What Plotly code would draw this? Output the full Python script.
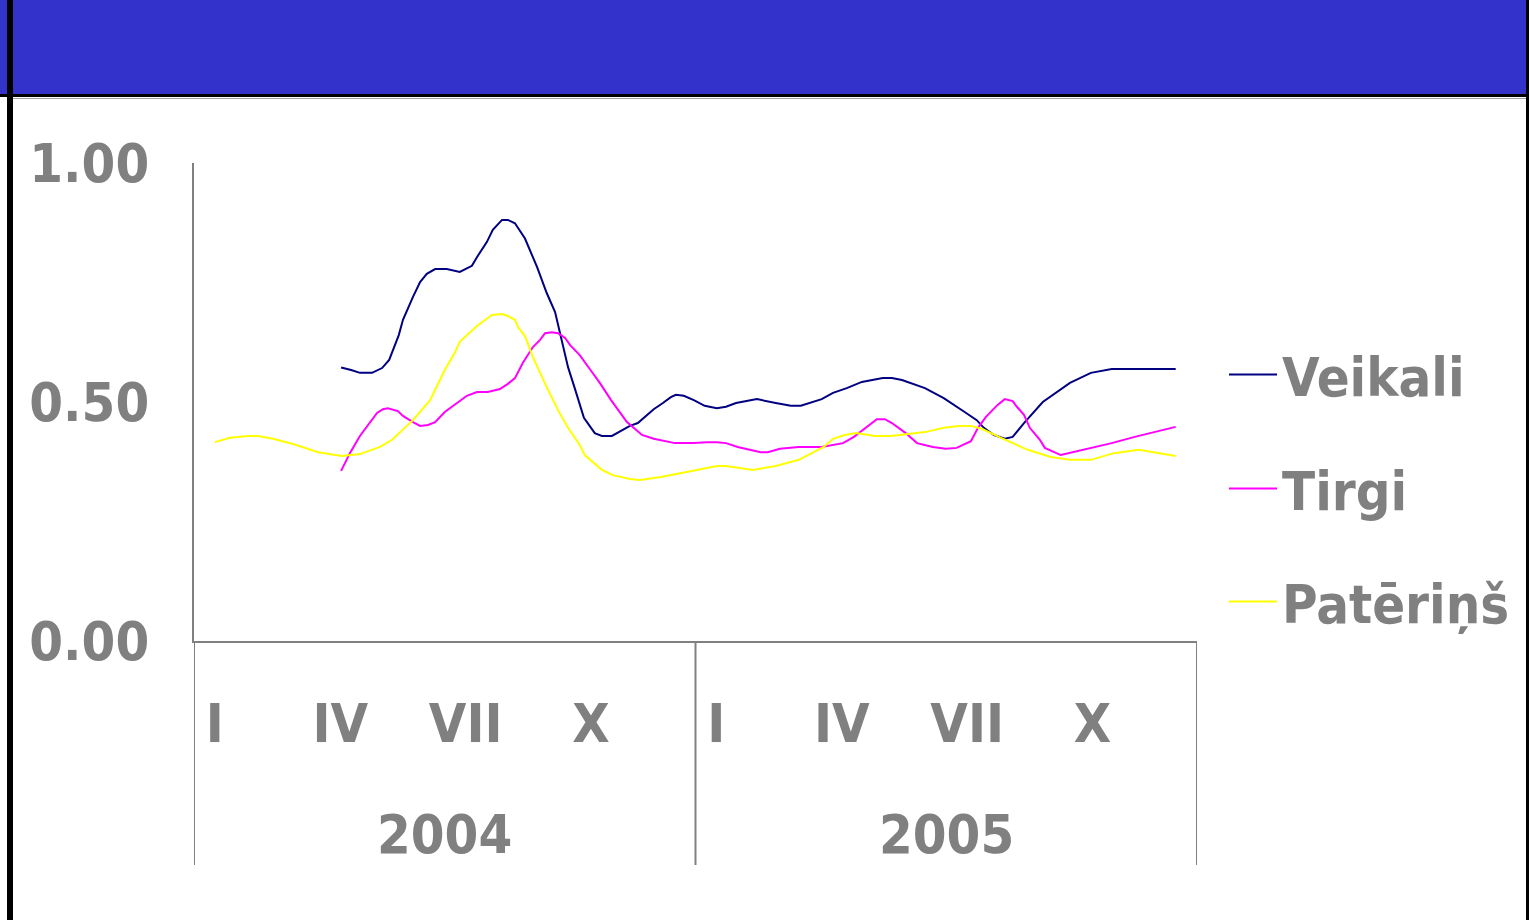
import plotly.graph_objects as go

# x positions in months from start of 2004 (0 = start of Jan 2004, 24 = end of Dec 2005)
veikali_x = [3.52, 3.76, 3.97, 4.26, 4.50, 4.67, 4.90, 5.00, 5.24, 5.41, 5.57, 5.77, 6.05, 6.36,
             6.65, 6.77, 7.01, 7.15, 7.37, 7.51, 7.68, 7.92, 8.21, 8.44, 8.64, 8.76, 8.95, 9.11,
             9.33, 9.59, 9.76, 10.00, 10.19, 10.43, 10.62, 11.00, 11.22, 11.41, 11.53, 11.72,
             11.96, 12.22, 12.51, 12.73, 12.97, 13.47, 13.92, 14.28, 14.52, 14.74, 15.02, 15.29,
             15.62, 15.98, 16.48, 16.70, 16.94, 17.49, 17.94, 18.44, 18.73, 18.90, 19.14, 19.40,
             19.59, 19.86, 20.31, 20.96, 21.46, 21.96, 23.49]
veikali_y = [0.572, 0.567, 0.561, 0.561, 0.571, 0.588, 0.640, 0.672, 0.720, 0.751, 0.768, 0.778,
             0.778, 0.772, 0.785, 0.803, 0.835, 0.860, 0.881, 0.881, 0.874, 0.842, 0.782, 0.728,
             0.688, 0.644, 0.573, 0.529, 0.467, 0.435, 0.429, 0.429, 0.439, 0.450, 0.456, 0.485,
             0.498, 0.510, 0.515, 0.513, 0.504, 0.492, 0.487, 0.490, 0.498, 0.506, 0.498, 0.492,
             0.492, 0.498, 0.506, 0.519, 0.529, 0.542, 0.550, 0.550, 0.546, 0.529, 0.508, 0.479,
             0.462, 0.446, 0.431, 0.423, 0.427, 0.456, 0.500, 0.540, 0.561, 0.569, 0.569]

tirgi_x = [3.52, 3.73, 3.97, 4.16, 4.38, 4.52, 4.64, 4.88, 5.00, 5.24, 5.41, 5.60, 5.77, 6.00,
           6.24, 6.53, 6.77, 7.03, 7.32, 7.51, 7.68, 7.87, 8.11, 8.28, 8.40, 8.56, 8.71, 8.88,
           9.00, 9.23, 9.47, 9.71, 9.98, 10.19, 10.36, 10.72, 11.00, 11.51, 11.96, 12.27, 12.51,
           12.73, 13.01, 13.56, 13.73, 14.02, 14.47, 15.02, 15.53, 15.79, 16.12, 16.34, 16.53,
           16.70, 17.03, 17.30, 17.68, 17.99, 18.25, 18.59, 18.76, 18.95, 19.23, 19.40, 19.59,
           19.69, 19.86, 20.00, 20.24, 20.36, 20.74, 21.41, 21.96, 22.51, 23.49]
tirgi_y = [0.356, 0.393, 0.429, 0.452, 0.477, 0.485, 0.487, 0.481, 0.471, 0.458, 0.450, 0.452,
           0.458, 0.479, 0.494, 0.513, 0.521, 0.521, 0.527, 0.538, 0.550, 0.582, 0.615, 0.630,
           0.644, 0.646, 0.644, 0.634, 0.619, 0.598, 0.569, 0.540, 0.504, 0.479, 0.458, 0.431,
           0.423, 0.414, 0.414, 0.416, 0.416, 0.414, 0.406, 0.395, 0.395, 0.402, 0.406, 0.406,
           0.414, 0.427, 0.450, 0.464, 0.464, 0.456, 0.435, 0.414, 0.406, 0.402, 0.404, 0.418,
           0.446, 0.469, 0.494, 0.506, 0.502, 0.490, 0.473, 0.446, 0.421, 0.404, 0.389, 0.402,
           0.414, 0.427, 0.448]

pateri_x = [0.50, 0.86, 1.29, 1.53, 1.89, 2.37, 2.97, 3.54, 3.97, 4.45, 4.74, 4.93, 5.24, 5.65,
            5.84, 6.00, 6.24, 6.36, 6.77, 7.13, 7.37, 7.51, 7.68, 7.75, 7.92, 8.11, 8.44, 8.71,
            8.95, 9.23, 9.35, 9.76, 10.02, 10.43, 10.67, 11.17, 11.82, 12.51, 12.73, 13.37, 13.92,
            14.47, 14.78, 15.07, 15.29, 15.57, 15.84, 16.29, 16.67, 17.49, 17.94, 18.30, 18.59,
            18.85, 19.31, 19.95, 20.50, 20.96, 21.46, 22.01, 22.61, 23.49]
pateri_y = [0.416, 0.425, 0.429, 0.429, 0.423, 0.412, 0.395, 0.387, 0.391, 0.406, 0.421, 0.437,
            0.462, 0.504, 0.540, 0.567, 0.603, 0.626, 0.659, 0.682, 0.684, 0.680, 0.672, 0.657,
            0.638, 0.594, 0.531, 0.483, 0.446, 0.410, 0.389, 0.358, 0.347, 0.339, 0.337, 0.343,
            0.354, 0.366, 0.366, 0.358, 0.366, 0.379, 0.393, 0.406, 0.423, 0.431, 0.435, 0.429,
            0.429, 0.437, 0.446, 0.450, 0.450, 0.444, 0.425, 0.400, 0.385, 0.379, 0.379, 0.393,
            0.400, 0.387]

month_ticks = [0.5, 3.5, 6.5, 9.5, 12.5, 15.5, 18.5, 21.5]
month_labels = ["I", "IV", "VII", "X", "I", "IV", "VII", "X"]
years = ["2004", "2005"]
year_pos = [6, 18]
year_bounds = [0, 12, 24]
y_ticks = [0, 0.5, 1.0]

W, H = 1529, 920
GRAY = "#808080"
FONT = "DejaVu Sans Condensed, DejaVu Sans"
FS = 54


def px(x):
    return x / W


def py(y):
    return 1 - y / H


fig = go.Figure()
series = [
    ("Veikali", veikali_x, veikali_y, "#000080", "legend", 375),
    ("Tirgi", tirgi_x, tirgi_y, "#FF00FF", "legend2", 489),
    ("Patēriņš", pateri_x, pateri_y, "#FFFF00", "legend3", 602),
]
legends = {}
for name, xs, ys, col, lg, ly in series:
    fig.add_trace(go.Scatter(x=xs, y=ys, mode="lines", name=name,
                             line=dict(color=col, width=2), legend=lg))
    legends[lg] = dict(x=px(1224), y=py(ly), xanchor="left", yanchor="middle",
                       bgcolor="rgba(0,0,0,0)", itemwidth=48,
                       font=dict(family=FONT, size=FS, color=GRAY, weight="bold"))

shapes = [
    # header band
    dict(type="rect", xref="paper", yref="paper", x0=0, x1=1, y0=py(94), y1=1,
         fillcolor="#3333CC", line_width=0, layer="below"),
    dict(type="rect", xref="paper", yref="paper", x0=0, x1=1, y0=py(97), y1=py(94),
         fillcolor="black", line_width=0),
    dict(type="line", xref="paper", yref="paper", x0=px(13), x1=px(1526), y0=py(98.5), y1=py(98.5),
         line=dict(color="#A0A0A0", width=1)),
    # frame borders
    dict(type="rect", xref="paper", yref="paper", x0=px(7), x1=px(13), y0=0, y1=1,
         fillcolor="black", line_width=0),
    dict(type="rect", xref="paper", yref="paper", x0=px(1526), x1=1, y0=0, y1=1,
         fillcolor="black", line_width=0),
]
for b in year_bounds:
    shapes.append(dict(type="line", xref="x", yref="paper", x0=b, x1=b,
                       y0=py(865), y1=py(641), line=dict(color=GRAY, width=2)))

annotations = [
    dict(x=xp, y=py(834), xref="x", yref="paper", text=t, showarrow=False,
         yanchor="middle",
         font=dict(family=FONT, size=FS, color=GRAY, weight="bold"))
    for t, xp in zip(years, year_pos)
]

fig.update_layout(
    width=W, height=H,
    margin=dict(l=0, r=0, t=0, b=0, autoexpand=False),
    paper_bgcolor="white", plot_bgcolor="white",
    showlegend=True,
    shapes=shapes,
    annotations=annotations,
    xaxis=dict(domain=[px(194), px(1197)], range=[0, 24], showgrid=False, zeroline=False,
               showline=True, linecolor=GRAY, linewidth=2, automargin=False,
               tickvals=month_ticks, ticktext=month_labels, ticks="",
               ticklabelstandoff=34,
               tickfont=dict(family=FONT, size=FS, color=GRAY, weight="bold")),
    yaxis=dict(domain=[py(641), py(163)], range=[0, 1], showgrid=False, zeroline=False,
               showline=True, linecolor=GRAY, linewidth=2, automargin=False,
               tickvals=y_ticks, tickformat=".2f", ticks="",
               ticklabelstandoff=32,
               tickfont=dict(family=FONT, size=FS, color=GRAY, weight="bold")),
    **legends,
)

# page body margin off so the figure sits at the window's top-left corner
fig.write_html("out.html", config={"displayModeBar": False},
               post_script="document.body.style.margin='0';")
